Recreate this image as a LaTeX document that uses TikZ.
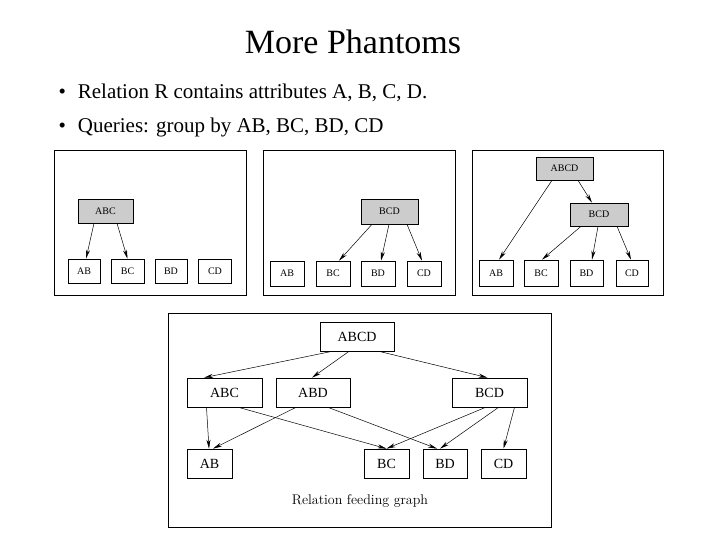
\documentclass[tikz,border=0pt]{standalone}
\usepackage{fontspec}
\setmainfont{Liberation Serif}
\newfontfamily\lmr{Latin Modern Roman}
\usetikzlibrary{arrows.meta,calc}
\begin{document}
\begin{tikzpicture}[x=1pt,y=-1pt,
  sbox/.style={draw,line width=0.6pt,inner sep=0pt,font=\fontsize{10}{12}\selectfont},
  gbox/.style={sbox,fill=gray!40},
  bbox/.style={draw,line width=0.7pt,inner sep=0pt,font=\fontsize{14}{16}\selectfont},
  panel/.style={draw,line width=0.8pt},
  arr/.style={-{Stealth[length=9pt,width=4pt]},line width=0.5pt}]
\useasboundingbox (0,0) rectangle (720,540);
\node[font=\fontsize{34}{38}\selectfont] (title) at (353,42) {More Phantoms};
\node[anchor=west,font=\fontsize{21}{24}\selectfont] (b1) at (55,93) {\textbullet\hspace{12pt}Relation R contains attributes A, B, C, D.};
\node[anchor=west,font=\fontsize{21}{24}\selectfont] (b2) at (55,127) {\textbullet\hspace{12pt}Queries: group by AB, BC, BD, CD};
% panel 1
\node[panel,minimum width=192,minimum height=145] (p1) at (150,222.5) {};
\node[gbox,minimum width=55,minimum height=24] (a1) at (105.5,211) {ABC};
\node[sbox,minimum width=32,minimum height=24] (ab1) at (84,271) {AB};
\node[sbox,minimum width=33,minimum height=24] (bc1) at (127.5,271) {BC};
\node[sbox,minimum width=32,minimum height=24] (bd1) at (171,271) {BD};
\node[sbox,minimum width=33,minimum height=24] (cd1) at (215,271) {CD};
\draw[arr] ([xshift=-11.5]a1.south) -- ([xshift=2]ab1.north);
\draw[arr] ([xshift=11.5]a1.south) -- (bc1.north);
% panel 2
\node[panel,minimum width=192,minimum height=145] (p2) at (359,222.5) {};
\node[gbox,minimum width=57,minimum height=25] (a2) at (389.5,211.5) {BCD};
\node[sbox,minimum width=34,minimum height=25] (ab2) at (287,273.5) {AB};
\node[sbox,minimum width=34,minimum height=25] (bc2) at (333,273.5) {BC};
\node[sbox,minimum width=34,minimum height=25] (bd2) at (378,273.5) {BD};
\node[sbox,minimum width=34,minimum height=25] (cd2) at (424,273.5) {CD};
\draw[arr] ([xshift=-17.5]a2.south) -- ([xshift=6]bc2.north);
\draw[arr] ([xshift=-0.5]a2.south) -- ([xshift=3]bd2.north);
\draw[arr] ([xshift=17.5]a2.south) -- ([xshift=-2]cd2.north);
% panel 3
\node[panel,minimum width=191,minimum height=145] (p3) at (567.5,222.5) {};
\node[gbox,minimum width=57,minimum height=23] (t3) at (564.5,168.5) {ABCD};
\node[gbox,minimum width=58,minimum height=23] (a3) at (599,214.5) {BCD};
\node[sbox,minimum width=34,minimum height=26] (ab3) at (496,273) {AB};
\node[sbox,minimum width=34,minimum height=26] (bc3) at (541,273) {BC};
\node[sbox,minimum width=33,minimum height=26] (bd3) at (586.5,273) {BD};
\node[sbox,minimum width=32,minimum height=26] (cd3) at (632,273) {CD};
\draw[arr] ([xshift=-12.5]t3.south) -- ([xshift=3]ab3.north);
\draw[arr] ([xshift=13.5]t3.south) -- ([xshift=-7]a3.north);
\draw[arr] ([xshift=-18]a3.south) -- ([xshift=1]bc3.north);
\draw[arr] ([xshift=-1]a3.south) -- ([xshift=5.5]bd3.north);
\draw[arr] ([xshift=18]a3.south) -- ([xshift=-1]cd3.north);
% bottom
\node[panel,minimum width=383,minimum height=214] (p4) at (359.5,420) {};
\node[bbox,minimum width=74,minimum height=29] (abcd) at (357,336.5) {ABCD};
\node[bbox,minimum width=75,minimum height=29] (abc) at (224.5,392.5) {ABC};
\node[bbox,minimum width=74,minimum height=29] (abd) at (313,392.5) {ABD};
\node[bbox,minimum width=75,minimum height=29] (bcd) at (489.5,392.5) {BCD};
\node[bbox,minimum width=45,minimum height=29] (ab) at (209.5,463.5) {AB};
\node[bbox,minimum width=45,minimum height=29] (bc) at (386.5,463.5) {BC};
\node[bbox,minimum width=44,minimum height=29] (bd) at (445,463.5) {BD};
\node[bbox,minimum width=45,minimum height=29] (cd) at (503.5,463.5) {CD};
\node[font=\lmr\fontsize{14}{16}\selectfont] (cap) at (360,501) {Relation feeding graph};
\draw[arr] ([xshift=-25]abcd.south) -- ([xshift=-153]abcd.south |- abc.north);
\draw[arr] ([xshift=-8]abcd.south) -- ([xshift=-45]abcd.south |- abd.north);
\draw[arr] ([xshift=22]abcd.south) -- ([xshift=-2]bcd.north);
\draw[arr] ([xshift=-18]abc.south) -- ([xshift=-0.5]ab.north);
\draw[arr] ([xshift=14]abc.south) -- (bc.north);
\draw[arr] ([xshift=-17]abd.south) -- ([xshift=3.5]ab.north);
\draw[arr] ([xshift=15]abd.south) -- ([xshift=-8]bd.north);
\draw[arr] ([xshift=-4]bcd.south) -- (bc.north);
\draw[arr] ([xshift=9]bcd.south) -- ([xshift=-5]bd.north);
\draw[arr] ([xshift=25]bcd.south) -- (cd.north);
\end{tikzpicture}
\end{document}
